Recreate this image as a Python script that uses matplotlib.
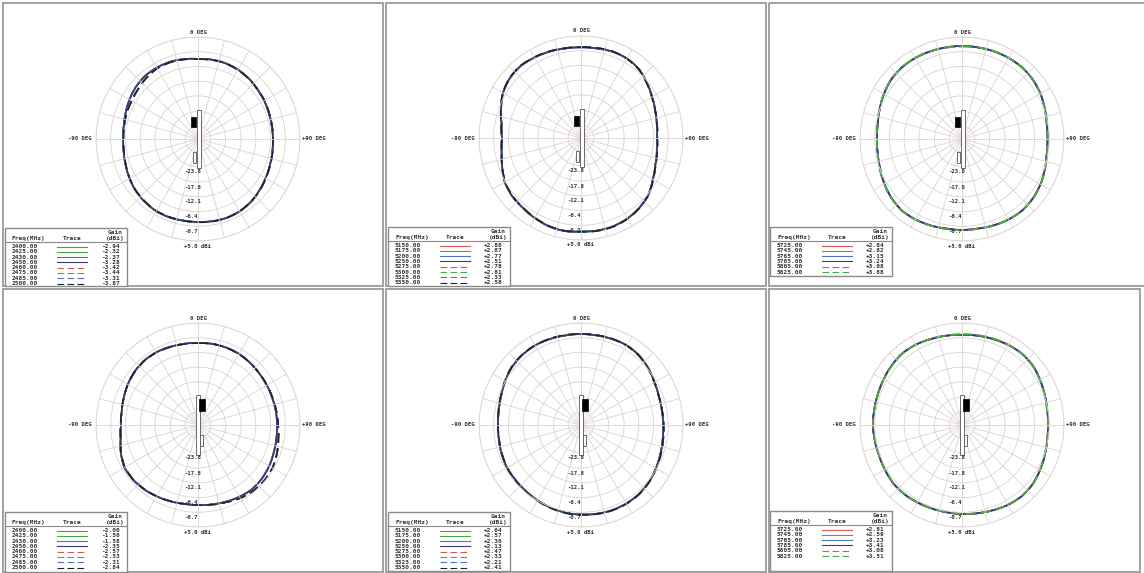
import numpy as np
import matplotlib
matplotlib.use("Agg")
import matplotlib.pyplot as plt
from matplotlib.patches import Rectangle, PathPatch
from matplotlib.path import Path

W, H = 1144, 573

# Measurement angles (deg, clockwise from 0 DEG at the top)
angles_deg = list(range(0, 360, 10))

# Radial scale (dBi) and labelled rings
r_min, r_max = -34.5, 5.0
ring_values = [-29.5, -23.8, -17.8, -12.1, -6.4, -0.7, 5.0]
ring_labels = ["-23.8", "-17.8", "-12.1", "-6.4", "-0.7", "+5.0 dBi"]

# Gain patterns (dBi) every 10 deg: solid traces / dashed traces of each panel
gain_p1_solid = [-3.5, -3.3, -3.3, -3.5, -3.9, -4.5, -4.9, -5.3, -5.5, -5.5, -5.3, -4.9,
                 -4.3, -3.5, -2.7, -2.2, -2.0, -2.2, -2.4, -2.4, -2.2, -2.2, -2.6, -3.1,
                 -3.9, -4.7, -5.3, -5.5, -5.3, -4.7, -3.9, -3.1, -2.6, -2.6, -2.7, -3.1]
gain_p1_dashed = [-3.6, -3.4, -3.3, -3.6, -4.0, -4.5, -4.8, -5.2, -5.4, -5.5, -5.2, -4.8,
                  -4.2, -3.4, -2.7, -2.2, -2.0, -2.1, -2.3, -2.4, -2.3, -2.3, -2.7, -3.2,
                  -4.0, -4.8, -5.4, -5.6, -5.5, -5.1, -4.9, -4.3, -3.5, -2.9, -2.9, -3.2]
gain_p2_solid = [0.6, 0.7, 1.1, 1.1, 0.4, -1.2, -2.7, -3.9, -4.7, -5.1, -4.7, -3.9,
                 -2.4, -0.4, 0.7, 1.5, 1.9, 1.9, 1.7, 2.1, 1.9, 1.3, 0.7, 0.4,
                 -0.4, -2.0, -3.3, -3.9, -3.3, -1.6, 0.4, 1.5, 1.9, 1.5, 1.1, 0.7]
gain_p2_dashed = [0.7, 0.9, 1.2, 1.0, 0.3, -1.3, -2.8, -3.9, -4.6, -5.0, -4.6, -3.8,
                  -2.3, -0.3, 0.8, 1.6, 2.0, 2.0, 1.8, 2.0, 1.8, 1.2, 0.6, 0.3,
                  -0.5, -2.1, -3.4, -3.9, -3.2, -1.5, 0.5, 1.6, 2.0, 1.6, 1.2, 0.8]
gain_p3_solid = [1.5, 1.5, 1.6, 1.7, 1.7, 1.3, 0.6, -0.4, -1.2, -1.4, -1.2, -0.4,
                 0.6, 1.3, 1.7, 1.5, 1.1, 0.7, 0.7, 0.7, 1.1, 1.5, 1.7, 1.1,
                 0.2, -0.8, -1.4, -1.6, -1.4, -0.6, 0.4, 1.3, 1.7, 1.7, 1.6, 1.5]
gain_p3_dashed = [1.3, 1.5, 1.7, 1.8, 1.7, 1.2, 0.5, -0.3, -1.0, -1.3, -1.1, -0.3,
                  0.7, 1.4, 1.8, 1.6, 1.2, 0.8, 0.8, 0.9, 1.2, 1.6, 1.8, 1.2,
                  0.3, -0.6, -1.3, -1.5, -1.2, -0.5, 0.5, 1.4, 1.8, 1.8, 1.6, 1.4]
gain_p4_solid = [-2.7, -2.6, -2.6, -2.7, -3.1, -3.5, -3.7, -3.9, -3.9, -3.9, -3.7, -3.3,
                 -2.7, -2.2, -2.0, -2.4, -2.9, -3.3, -3.5, -3.5, -3.1, -2.6, -2.0, -1.6,
                 -1.6, -2.7, -4.1, -4.7, -4.5, -3.9, -3.1, -2.4, -2.0, -2.0, -2.4, -2.6]
gain_p4_dashed = [-2.8, -2.6, -2.6, -2.8, -3.1, -3.5, -3.7, -3.8, -3.7, -3.5, -2.9, -2.0,
                  -1.2, -1.0, -1.2, -1.8, -2.7, -3.2, -3.5, -3.5, -3.1, -2.6, -2.1, -1.7,
                  -1.7, -2.8, -4.1, -4.6, -4.5, -3.9, -3.1, -2.5, -2.1, -2.1, -2.4, -2.7]
gain_p5_solid = [0.7, 0.7, 0.9, 1.1, 0.6, -0.4, -1.6, -2.4, -2.7, -2.7, -2.4, -1.8,
                 -1.0, -0.2, 0.4, 0.6, 0.6, 0.4, 0.2, 0.0, -0.4, -0.8, -1.2, -1.4,
                 -1.4, -1.8, -2.2, -2.4, -2.2, -1.6, -0.6, 0.4, 0.9, 1.1, 0.9, 0.7]
gain_p5_dashed = [0.8, 0.8, 1.0, 1.0, 0.5, -0.5, -1.7, -2.4, -2.6, -2.5, -2.2, -1.6,
                  -0.9, -0.1, 0.5, 0.7, 0.7, 0.5, 0.2, 0.1, -0.3, -0.7, -1.1, -1.3,
                  -1.5, -1.9, -2.3, -2.4, -2.1, -1.5, -0.5, 0.5, 1.0, 1.1, 1.0, 0.8]
gain_p6_solid = [0.4, 0.6, 0.9, 1.3, 1.6, 1.3, 0.4, -0.4, -1.0, -1.2, -1.0, -0.4,
                 0.4, 1.2, 1.5, 1.2, 0.6, 0.2, 0.0, -0.2, -0.1, 0.1, 0.4, 0.4,
                 0.0, -0.3, -0.2, 0.0, 0.0, 0.2, 0.6, 1.2, 1.6, 1.4, 0.9, 0.6]
gain_p6_dashed = [0.6, 0.8, 1.1, 1.4, 1.6, 1.2, 0.3, -0.5, -1.1, -1.3, -1.1, -0.5,
                  0.3, 1.1, 1.4, 1.1, 0.5, 0.1, -0.1, -0.3, -0.2, 0.0, 0.3, 0.3,
                  -0.1, -0.4, -0.3, -0.1, -0.1, 0.1, 0.5, 1.1, 1.5, 1.4, 1.0, 0.7]

# Legend tables
freqs_24 = ["2400.00", "2425.00", "2430.00", "2450.00", "2460.00", "2475.00", "2485.00", "2500.00"]
freqs_52 = ["5150.00", "5175.00", "5200.00", "5250.00", "5275.00", "5300.00", "5325.00", "5350.00"]
freqs_58 = ["5725.00", "5745.00", "5765.00", "5785.00", "5805.00", "5825.00"]
gains_24a = ["-2.94", "-2.32", "-2.37", "-3.28", "-3.42", "-3.44", "-3.31", "-3.87"]
gains_52a = ["+2.88", "+2.87", "+2.77", "+2.51", "+2.78", "+2.81", "+2.33", "+2.58"]
gains_58a = ["+2.84", "+2.82", "+3.15", "+3.24", "+3.08", "+3.88"]
gains_24b = ["-2.00", "-1.50", "-1.58", "-2.35", "-2.57", "-2.53", "-2.31", "-2.84"]
gains_52b = ["+2.64", "+2.57", "+2.30", "+2.13", "+2.47", "+2.33", "+2.21", "+2.41"]
gains_58b = ["+2.81", "+2.59", "+3.23", "+3.41", "+3.08", "+3.51"]

trace_colors = ["#e05555", "#3fae4a", "#5070d0", "#3a3a7a",
                "#e05555", "#3fae4a", "#5070d0", "#222222"]
trace_dashed = [False, False, False, False, True, True, True, True]

panels = [
    dict(frame=(3, 3, 383, 286), center=(198, 139), box=(5, 228, 127, 286), icon="left",
         solid=gain_p1_solid, dashed=gain_p1_dashed, freqs=freqs_24, gains=gains_24a),
    dict(frame=(386, 3, 766, 286), center=(581, 138), box=(388, 227, 510, 286), icon="left",
         solid=gain_p2_solid, dashed=gain_p2_dashed, freqs=freqs_52, gains=gains_52a),
    dict(frame=(769, 3, 1150, 286), center=(962, 139), box=(770, 227, 892, 276), icon="left",
         solid=gain_p3_solid, dashed=gain_p3_dashed, freqs=freqs_58, gains=gains_58a),
    dict(frame=(3, 289, 383, 572), center=(198, 425), box=(5, 512, 127, 572), icon="right",
         solid=gain_p4_solid, dashed=gain_p4_dashed, freqs=freqs_24, gains=gains_24b),
    dict(frame=(386, 289, 766, 572), center=(581, 425), box=(388, 512, 510, 571), icon="right",
         solid=gain_p5_solid, dashed=gain_p5_dashed, freqs=freqs_52, gains=gains_52b),
    dict(frame=(769, 289, 1140, 572), center=(962, 425), box=(770, 511, 892, 571), icon="right",
         solid=gain_p6_solid, dashed=gain_p6_dashed, freqs=freqs_58, gains=gains_58b),
]

R_PX = 102
grid_color = "#ddd2d2"
text_color = "#333333"
mono = dict(family="DejaVu Sans Mono", fontweight="bold", color=text_color)
FS_AXIS = 4.1
FS_TABLE = 4.4

fig = plt.figure(figsize=(W / 100, H / 100), dpi=100)
fig.patch.set_facecolor("white")

# Full-figure overlay in pixel coordinates for frames, labels and tables
over = fig.add_axes([0, 0, 1, 1], zorder=5)
over.set_xlim(0, W)
over.set_ylim(H, 0)
over.axis("off")
over.patch.set_alpha(0)

theta = np.deg2rad(angles_deg + [360])

for p in panels:
    cx, cy = p["center"]
    x0, y0, x1, y1 = p["frame"]
    over.add_patch(Rectangle((x0, y0), x1 - x0, y1 - y0, fill=False,
                             edgecolor="#9a9a9a", lw=1.3))

    ax = fig.add_axes([(cx - R_PX) / W, (H - cy - R_PX) / H, 2 * R_PX / W, 2 * R_PX / H],
                      projection="polar", zorder=2)
    ax.set_theta_zero_location("N")
    ax.set_theta_direction(-1)
    ax.set_rlim(r_min, r_max)
    ax.set_xticks(np.deg2rad(np.arange(0, 360, 15)))
    ax.set_yticks(ring_values)
    ax.set_xticklabels([])
    ax.set_yticklabels([])
    ax.grid(True, color=grid_color, lw=0.6)
    ax.spines["polar"].set_color(grid_color)
    ax.spines["polar"].set_linewidth(0.6)
    ax.patch.set_alpha(0)

    n = len(p["freqs"])
    for i in range(n):
        g = p["dashed"] if trace_dashed[i] else p["solid"]
        verts = np.column_stack([theta, g + [g[0]]])
        # sweep between samples in (angle, gain) space so the trace follows the polar grid
        path = Path(verts, _interpolation_steps=20)
        ls = (0, (6, 3)) if trace_dashed[i] else "-"
        ax.add_patch(PathPatch(path, fill=False, edgecolor=trace_colors[i], lw=1.2, ls=ls))

    # angle labels
    over.text(cx, cy - 107, "0 DEG", ha="center", va="center", fontsize=FS_AXIS, **mono)
    over.text(cx - R_PX - 4, cy, "-90 DEG", ha="right", va="center", fontsize=FS_AXIS, **mono)
    over.text(cx + R_PX + 2, cy, "+90 DEG", ha="left", va="center", fontsize=FS_AXIS, **mono)

    # radial labels below the rings on the 180 deg axis
    for v, lab in zip(ring_values[1:], ring_labels):
        rp = (v - r_min) / (r_max - r_min) * R_PX
        over.text(cx - 14, cy + rp + 5, lab, ha="left", va="center", fontsize=FS_AXIS, **mono)

    # device sketch at the centre
    if p["icon"] == "left":
        over.add_patch(Rectangle((cx - 1, cy - 29), 3.5, 58, facecolor="white", edgecolor="#555555", lw=0.6))
        over.add_patch(Rectangle((cx - 7, cy - 22), 5, 10, facecolor="black", edgecolor="black", lw=0.5))
        over.add_patch(Rectangle((cx - 5, cy + 13), 3, 11, facecolor="white", edgecolor="#555555", lw=0.6))
    else:
        over.add_patch(Rectangle((cx - 2, cy - 30), 3.5, 60, facecolor="white", edgecolor="#555555", lw=0.6))
        over.add_patch(Rectangle((cx + 1, cy - 26), 6, 12, facecolor="black", edgecolor="black", lw=0.5))
        over.add_patch(Rectangle((cx + 2, cy + 10), 3, 11, facecolor="white", edgecolor="#555555", lw=0.6))

    # legend table
    bx0, by0, bx1, by1 = p["box"]
    over.add_patch(Rectangle((bx0, by0), bx1 - bx0, by1 - by0, facecolor="white",
                             edgecolor="#8a8a8a", lw=1.0))
    over.plot([bx0, bx1], [by0 + 14, by0 + 14], color="#8a8a8a", lw=0.8)
    over.text(bx0 + 7, by0 + 10.5, "Freq(MHz)", ha="left", va="center", fontsize=FS_TABLE, **mono)
    over.text(bx0 + 67, by0 + 10.5, "Trace", ha="center", va="center", fontsize=FS_TABLE, **mono)
    over.text(bx0 + 110, by0 + 4.5, "Gain", ha="center", va="center", fontsize=FS_TABLE, **mono)
    over.text(bx0 + 110, by0 + 10.5, "(dBi)", ha="center", va="center", fontsize=FS_TABLE, **mono)
    for i, (f, g) in enumerate(zip(p["freqs"], p["gains"])):
        yy = by0 + 18.5 + i * 5.3
        over.text(bx0 + 7, yy, f, ha="left", va="center", fontsize=FS_TABLE, **mono)
        over.text(bx0 + 115, yy, g, ha="right", va="center", fontsize=FS_TABLE, **mono)
        ls = (0, (6, 3)) if trace_dashed[i] else "-"
        over.plot([bx0 + 52, bx0 + 82], [yy, yy], color=trace_colors[i], lw=0.8, ls=ls)

fig.savefig("out.png", dpi=100, facecolor="white")
